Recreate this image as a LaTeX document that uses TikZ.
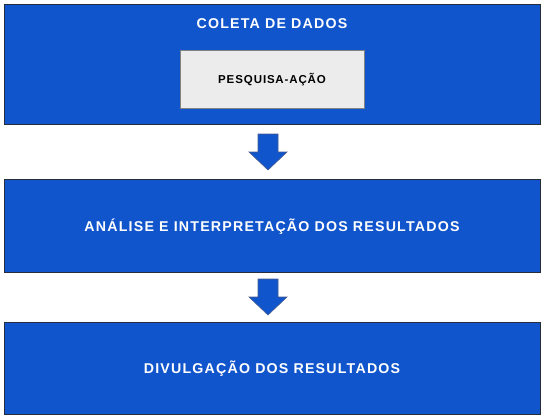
\documentclass[tikz,border=0pt]{standalone}
\usepackage{fontspec}
\setmainfont{Liberation Sans}
\newfontfamily\stagefont[LetterSpace=8.5]{Liberation Sans}
\newfontfamily\innerfont[LetterSpace=8]{Liberation Sans}
\definecolor{boxblue}{RGB}{17,85,204}
\definecolor{boxedge}{RGB}{40,45,60}
\definecolor{innerfill}{RGB}{236,236,236}
\definecolor{inneredge}{RGB}{130,130,130}
\definecolor{arrowedge}{RGB}{70,90,140}
\tikzset{
  stagebox/.style={draw=boxedge, line width=1pt, fill=boxblue},
  stagetext/.style={text=white, font=\stagefont\bfseries\fontsize{14.2}{16}\selectfont, inner sep=0pt},
  innerbox/.style={draw=inneredge, line width=1pt, fill=innerfill},
  innertext/.style={text=black, font=\innerfont\bfseries\fontsize{11.5}{13}\selectfont, inner sep=0pt},
  downarrow/.style={draw=arrowedge, line width=0.6pt, fill=boxblue}
}
\begin{document}
\begin{tikzpicture}[x=1pt,y=-1pt]
\useasboundingbox (0,0) rectangle (544,420);
% boxes
\draw[stagebox] (4.5,5) rectangle (540,124.5);
\node[stagetext] (t1) at (272,24) {COLETA DE DADOS};
\draw[innerbox] (180.5,50.5) rectangle (364,109);
\node[innertext] (t1b) at (272,80) {PE\kern1pt SQUIS\kern0.5pt A-AÇÃO};
\draw[stagebox] (4.5,179.5) rectangle (540,272);
\node[stagetext] (t2) at (272,226.5) {ANÁLISE E INTERPRETAÇÃO DOS RESULTADOS};
\draw[stagebox] (4.5,322) rectangle (540,414.5);
\node[stagetext] (t3) at (272,369) {DIVULGAÇÃO DOS RESULTADOS};
% arrows
\draw[downarrow] (258,134) -- (278,134) -- (278,152) -- (287,152) -- (268,170) -- (249,152) -- (258,152) -- cycle;
\draw[downarrow] (258,279) -- (278,279) -- (278,297) -- (287,297) -- (268,315) -- (249,297) -- (258,297) -- cycle;
\end{tikzpicture}
\end{document}
